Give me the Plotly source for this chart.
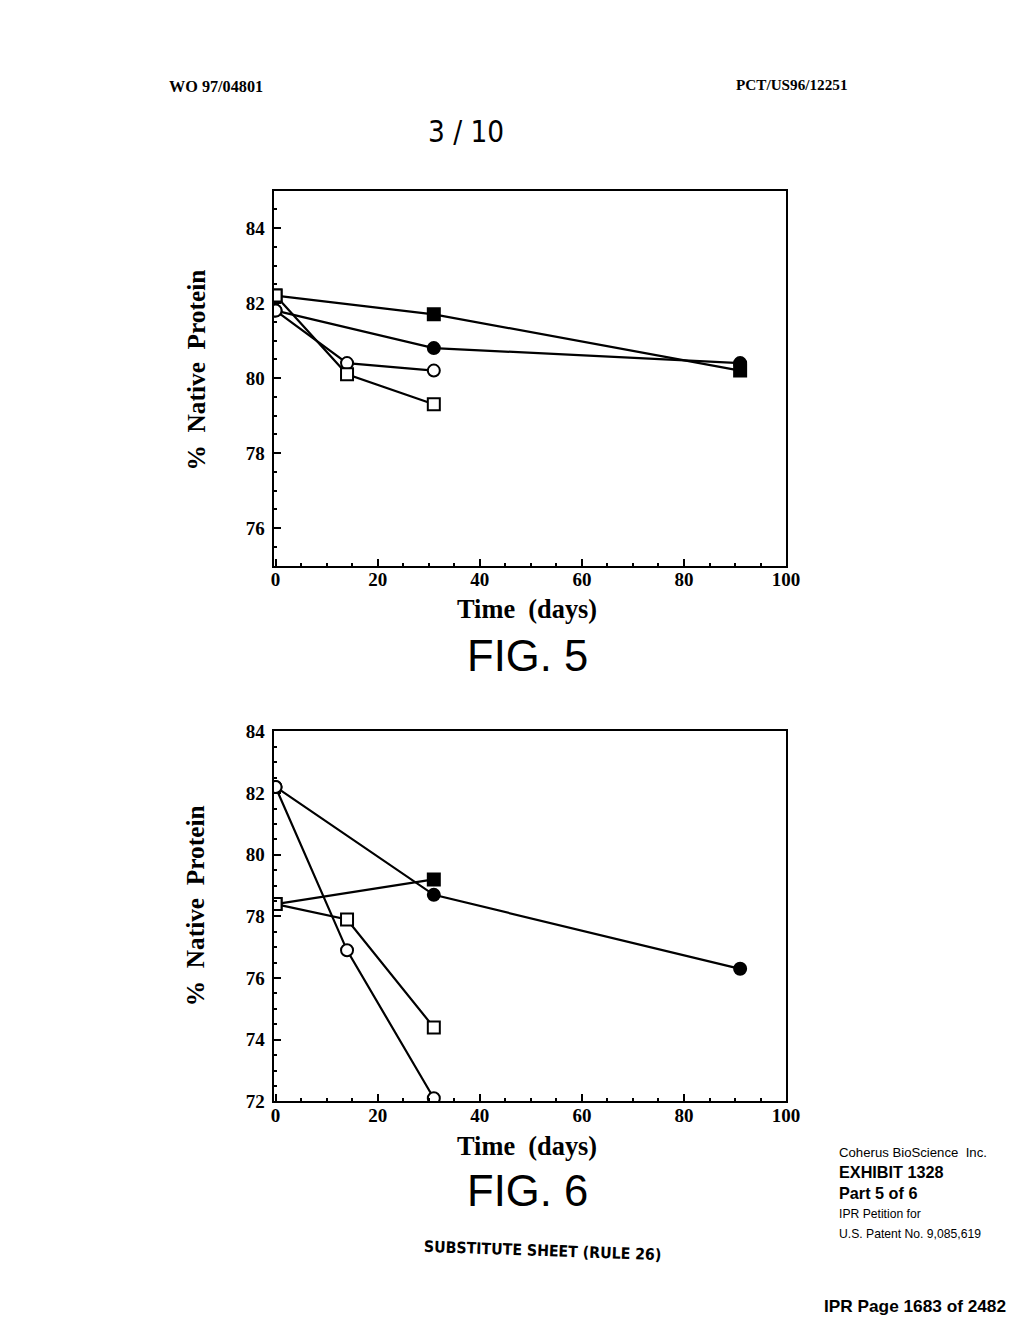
import plotly.graph_objects as go

# ---------------- data ----------------
# FIG. 5
f5_filled_sq_x = [0, 31, 91]
f5_filled_sq_y = [82.2, 81.7, 80.2]
f5_filled_ci_x = [0, 31, 91]
f5_filled_ci_y = [81.8, 80.8, 80.4]
f5_open_ci_x = [0, 14, 31]
f5_open_ci_y = [81.8, 80.4, 80.2]
f5_open_sq_x = [0, 14, 31]
f5_open_sq_y = [82.2, 80.1, 79.3]

# FIG. 6
f6_filled_sq_x = [0, 31]
f6_filled_sq_y = [78.4, 79.2]
f6_filled_ci_x = [0, 31, 91]
f6_filled_ci_y = [82.2, 78.7, 76.3]
f6_open_ci_x = [0, 14, 31]
f6_open_ci_y = [82.2, 76.9, 72.1]
f6_open_sq_x = [0, 14, 31]
f6_open_sq_y = [78.4, 77.9, 74.4]

x_range = [-0.4, 100]
f5_y_range = [75, 85]
f6_y_range = [72, 84]

W, H = 1020, 1320
SERIF = "Liberation Serif"
SANS = "Liberation Sans"
NARROW = "Liberation Sans Narrow, DejaVu Sans Condensed, Liberation Sans"

# calibration of page pixel position -> paper fraction
AX, BX = 0.988, 0.2
AY, BY = 0.9844, 9.3
FS = 1.0 / 0.986


def fx(x):
    return ((x - BX) / AX) / W


def fy(y):
    return 1 - ((y - BY) / AY) / H


fig = go.Figure()


def add_series(x, y, symbol, fill, xa, ya, size=12):
    fig.add_trace(go.Scatter(
        x=x, y=y, mode="lines+markers", xaxis=xa, yaxis=ya,
        line=dict(color="black", width=2.2),
        marker=dict(symbol=symbol, size=size, color=fill,
                    line=dict(color="black", width=2)),
        showlegend=False, hoverinfo="skip"))


# Fig 5 (filled first, open on top)
add_series(f5_filled_sq_x, f5_filled_sq_y, "square", "black", "x", "y")
add_series(f5_filled_ci_x, f5_filled_ci_y, "circle", "black", "x", "y")
add_series(f5_open_ci_x, f5_open_ci_y, "circle", "white", "x", "y")
add_series(f5_open_sq_x, f5_open_sq_y, "square", "white", "x", "y")
# Fig 6
add_series(f6_filled_sq_x, f6_filled_sq_y, "square", "black", "x2", "y2")
add_series(f6_filled_ci_x, f6_filled_ci_y, "circle", "black", "x2", "y2")
add_series(f6_open_ci_x, f6_open_ci_y, "circle", "white", "x2", "y2")
add_series(f6_open_sq_x, f6_open_sq_y, "square", "white", "x2", "y2")

x_dom = [fx(272), fx(787)]
f5_dom = [fy(565), fy(190)]
f6_dom = [fy(1101), fy(731)]

tickfont = dict(family=SERIF, size=round(19 * FS), color="black", weight="bold")

common_x = dict(range=x_range, domain=x_dom, showline=True, linewidth=2, linecolor="black",
                mirror=True, ticks="inside", ticklen=7, tickwidth=2, tickcolor="black",
                dtick=20, tick0=0, showgrid=False, zeroline=False, tickfont=tickfont,
                ticklabelstandoff=-4,
                minor=dict(dtick=5, ticks="inside", ticklen=3, tickwidth=2, tickcolor="black", showgrid=False),
                fixedrange=True)
common_y = dict(showline=True, linewidth=2, linecolor="black", mirror=True, ticks="inside",
                ticklen=7, tickwidth=2, tickcolor="black", dtick=2, showgrid=False, zeroline=False,
                tickfont=tickfont, ticklabelstandoff=3,
                minor=dict(dtick=0.5, ticks="inside", ticklen=3, tickwidth=2, tickcolor="black", showgrid=False),
                fixedrange=True)

fig.update_layout(
    width=W, height=H, margin=dict(l=0, r=0, t=0, b=0),
    paper_bgcolor="white", plot_bgcolor="white",
    xaxis=dict(anchor="y", **common_x),
    yaxis=dict(anchor="x", domain=f5_dom, range=f5_y_range, **common_y),
    xaxis2=dict(anchor="y2", **common_x),
    yaxis2=dict(anchor="x2", domain=f6_dom, range=f6_y_range, **common_y),
)

ann = []


def txt(x, y, s, size, family=SERIF, bold=False, xanchor="center", angle=0, color="black"):
    ann.append(dict(x=fx(x), y=fy(y), xref="paper", yref="paper", text=s, showarrow=False,
                    xanchor=xanchor, yanchor="middle", textangle=angle,
                    font=dict(family=family, size=size * FS, color=color,
                              weight="bold" if bold else "normal")))


# header
txt(165, 86, "WO 97/04801", 16, SERIF, True, "left")
txt(851, 84, "PCT/US96/12251", 15, SERIF, True, "right")
txt(465, 131, "3 / 10", 29, NARROW)

# Fig 5 labels
txt(194, 369, "%  Native  Protein", 25, SERIF, True, angle=-90)
txt(527, 609, "Time  (days)", 26, SERIF, True)
txt(527, 656, "FIG. 5", 43, SANS)

# Fig 6 labels
txt(194, 905, "%  Native  Protein", 25, SERIF, True, angle=-90)
txt(527, 1146, "Time  (days)", 26, SERIF, True)
txt(527, 1191, "FIG. 6", 43, SANS)

txt(542, 1250, "SUBSTITUTE SHEET (RULE 26)", 15.5, NARROW, True, angle=2)

# exhibit block
txt(838, 1152, "Coherus BioScience  Inc.", 13, SANS, False, "left")
txt(838, 1172, "EXHIBIT 1328", 16, SANS, True, "left")
txt(838, 1193, "Part 5 of 6", 16, SANS, True, "left")
txt(838, 1214, "IPR Petition for", 12, SANS, False, "left")
txt(838, 1234, "U.S. Patent No. 9,085,619", 12, SANS, False, "left")
txt(1010, 1306, "IPR Page 1683 of 2482", 17, SANS, True, "right")

fig.update_layout(annotations=ann)

fig.write_html("out.html", config={"displayModeBar": False},
               post_script="document.body.style.margin='0';document.body.style.overflow='hidden';")
